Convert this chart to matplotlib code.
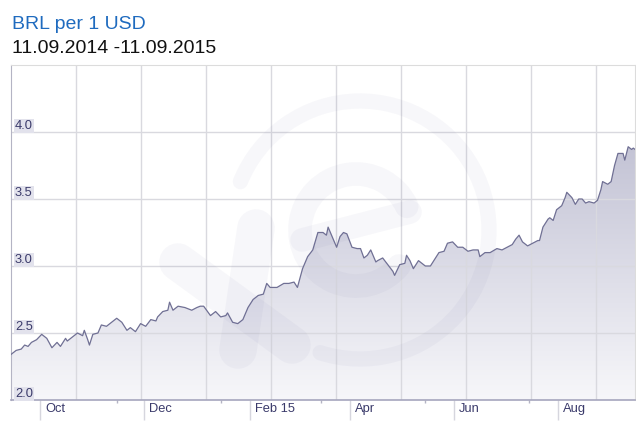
import numpy as np
import pandas as pd
import matplotlib
matplotlib.use('Agg')
import matplotlib.pyplot as plt
import matplotlib.dates as mdates
import matplotlib.transforms as mtrans
from matplotlib.patches import Arc
from matplotlib.colors import LinearSegmentedColormap

plt.rcParams['font.family'] = ['Liberation Sans', 'DejaVu Sans']

title = 'BRL per 1 USD'
subtitle = '11.09.2014 -11.09.2015'

# days counted from 1 Oct 2014 and the BRL rate
days = [-17, -14, -11, -9, -7, -5, -2, 1, 4, 7, 10, 12, 15, 16, 19, 22, 25, 26, 28, 29,
        31, 34, 36, 39, 42, 45, 48, 51, 53, 56, 59, 62, 65, 68, 69, 72, 75, 76, 78, 81,
        85, 89, 92, 94, 96, 100, 103, 106, 109, 110, 113, 116, 119, 122, 123, 125, 128, 131, 133, 135,
        139, 143, 146, 149, 151, 154, 157, 160, 163, 166, 168, 169, 171, 174, 176, 178, 180, 183, 186, 188,
        190, 192, 194, 197, 198, 201, 204, 207, 208, 211, 214, 215, 217, 219, 222, 224, 226, 229, 231, 234,
        237, 239, 242, 245, 248, 251, 254, 257, 258, 261, 264, 268, 271, 274, 277, 279, 281, 283, 285, 286,
        289, 292, 293, 295, 298, 299, 301, 303, 306, 308, 309, 312, 314, 316, 318, 320, 322, 325, 327, 329,
        330, 333, 335, 336, 337, 339, 342, 343, 345, 347, 348, 349]
rates = [2.34, 2.37, 2.38, 2.41, 2.40, 2.43, 2.45, 2.49, 2.46, 2.39, 2.43, 2.40, 2.46, 2.44, 2.47, 2.50, 2.48, 2.52, 2.45, 2.41,
         2.49, 2.50, 2.56, 2.55, 2.58, 2.61, 2.58, 2.52, 2.54, 2.51, 2.57, 2.55, 2.60, 2.59, 2.62, 2.66, 2.67, 2.73, 2.67, 2.70,
         2.69, 2.67, 2.69, 2.70, 2.70, 2.63, 2.66, 2.62, 2.63, 2.65, 2.58, 2.57, 2.60, 2.69, 2.71, 2.75, 2.78, 2.79, 2.87, 2.84,
         2.84, 2.87, 2.87, 2.88, 2.84, 2.98, 3.07, 3.12, 3.25, 3.25, 3.23, 3.29, 3.23, 3.14, 3.22, 3.25, 3.24, 3.14, 3.13, 3.13,
         3.06, 3.08, 3.12, 3.03, 3.04, 3.06, 3.01, 2.96, 2.93, 3.01, 3.02, 3.08, 3.04, 2.98, 3.04, 3.02, 3.00, 3.00, 3.04, 3.10,
         3.11, 3.17, 3.18, 3.14, 3.14, 3.11, 3.12, 3.12, 3.07, 3.10, 3.10, 3.13, 3.12, 3.14, 3.16, 3.20, 3.23, 3.18, 3.16, 3.15,
         3.17, 3.19, 3.19, 3.29, 3.35, 3.36, 3.34, 3.42, 3.45, 3.51, 3.55, 3.51, 3.46, 3.50, 3.50, 3.47, 3.48, 3.47, 3.49, 3.57,
         3.63, 3.61, 3.63, 3.69, 3.75, 3.84, 3.84, 3.79, 3.89, 3.87, 3.88, 3.87]

yticks = [2.0, 2.5, 3.0, 3.5, 4.0]
ytick_labels = ['2.0', '2.5', '3.0', '3.5', '4.0']
month_ticks = ['2014-10-01', '2014-12-01', '2015-02-01', '2015-04-01', '2015-06-01', '2015-08-01']
month_labels = ['Oct', 'Dec', 'Feb 15', 'Apr', 'Jun', 'Aug']
mid_ticks = ['2014-11-15', '2015-01-15', '2015-03-15', '2015-05-15', '2015-07-15']

dates = pd.Timestamp('2014-10-01') + pd.to_timedelta(days, unit='D')
x = mdates.date2num(dates)

W, H = 636, 429
fig = plt.figure(figsize=(W / 100, H / 100), dpi=100)
ax = fig.add_axes([11 / W, 29 / H, 624 / W, 335 / H])

# gradient area under the line
poly = ax.fill_between(x, rates, 2.0, facecolor='none', edgecolor='none')
grad = np.linspace(0, 1, 256).reshape(-1, 1)
cmap = LinearSegmentedColormap.from_list('fade', ['#f7f7fa', '#dcdce7', '#c2c2d4'])
im = ax.imshow(grad, extent=[x[0], x[-1], 2.0, 3.95], origin='lower', aspect='auto',
               cmap=cmap, zorder=1)
im.set_clip_path(poly.get_paths()[0], transform=ax.transData)
ax.plot(x, rates, color='#707094', lw=0.9, zorder=3)

ax.set_xlim(x[0], x[-1])
ax.set_ylim(2.0, 4.5)

# grid
for v in yticks[1:]:
    ax.axhline(v, color='#d9d9df', lw=1, zorder=2)
for k in range(1, 10):
    ax.plot([k * 65 / 624] * 2, [0, 1], transform=ax.transAxes, color='#d9d9df', lw=1, zorder=2)

for s in ['top', 'right']:
    ax.spines[s].set_color('#dcdcdc')
ax.spines['left'].set_color('#b4b4c4')
ax.spines['bottom'].set_color('#a6a6bd')
ax.spines['bottom'].set_linewidth(1.2)

# y labels sit inside the plot on small boxes
ax.set_yticks([])
for v, lab in zip(yticks, ytick_labels):
    ax.annotate(lab, xy=(0, v), xycoords=('axes fraction', 'data'), xytext=(4, 3),
                textcoords='offset pixels', ha='left', va='baseline', fontsize=9.3,
                color='#3a3a6a', zorder=5,
                bbox=dict(boxstyle='square,pad=0.08', fc='#e2e2ec', ec='none'))

ax.set_xticks(mdates.date2num(pd.to_datetime(month_ticks)), labels=month_labels)
ax.set_xticks(mdates.date2num(pd.to_datetime(mid_ticks)), minor=True)
ax.tick_params(axis='x', which='major', length=14.4, width=1, color='#d6d6de', pad=-12.5,
               labelsize=9.3, labelcolor='#3a3a6a')
ax.tick_params(axis='x', which='minor', length=2.5, width=1, color='#b4b4c4')
shift = mtrans.ScaledTranslation(5 / 100, 0, fig.dpi_scale_trans)
for lab in ax.get_xticklabels():
    lab.set_horizontalalignment('left')
    lab.set_transform(lab.get_transform() + shift)

# faint xe watermark
wm = fig.add_axes([0, 0, 1, 1])
wm.set_xlim(0, W)
wm.set_ylim(0, H)
wm.axis('off')
wm.patch.set_alpha(0)
wm.set_zorder(2)
wc = '#6c6ca0'
wm.add_patch(Arc((360, H - 230), 258, 258, theta1=-108, theta2=158, lw=11, color=wc, alpha=0.05,
                 capstyle='round'))
wm.add_patch(Arc((356, H - 230), 112, 112, theta1=25, theta2=320, lw=17, color=wc, alpha=0.05,
                 capstyle='round'))
wm.plot([302, 410], [H - 240, H - 212], lw=17, color=wc, alpha=0.05, solid_capstyle='round')
wm.plot([178, 292], [H - 262, H - 345], lw=27, color=wc, alpha=0.05, solid_capstyle='round')
wm.plot([256, 238], [H - 228, H - 350], lw=27, color=wc, alpha=0.05, solid_capstyle='round')

fig.text(12 / W, 1 - 29 / H, title, fontsize=14, color='#1f6bbf', va='baseline')
fig.text(12 / W, 1 - 53 / H, subtitle, fontsize=14, color='#111111', va='baseline')

fig.savefig('out.png', dpi=100)
